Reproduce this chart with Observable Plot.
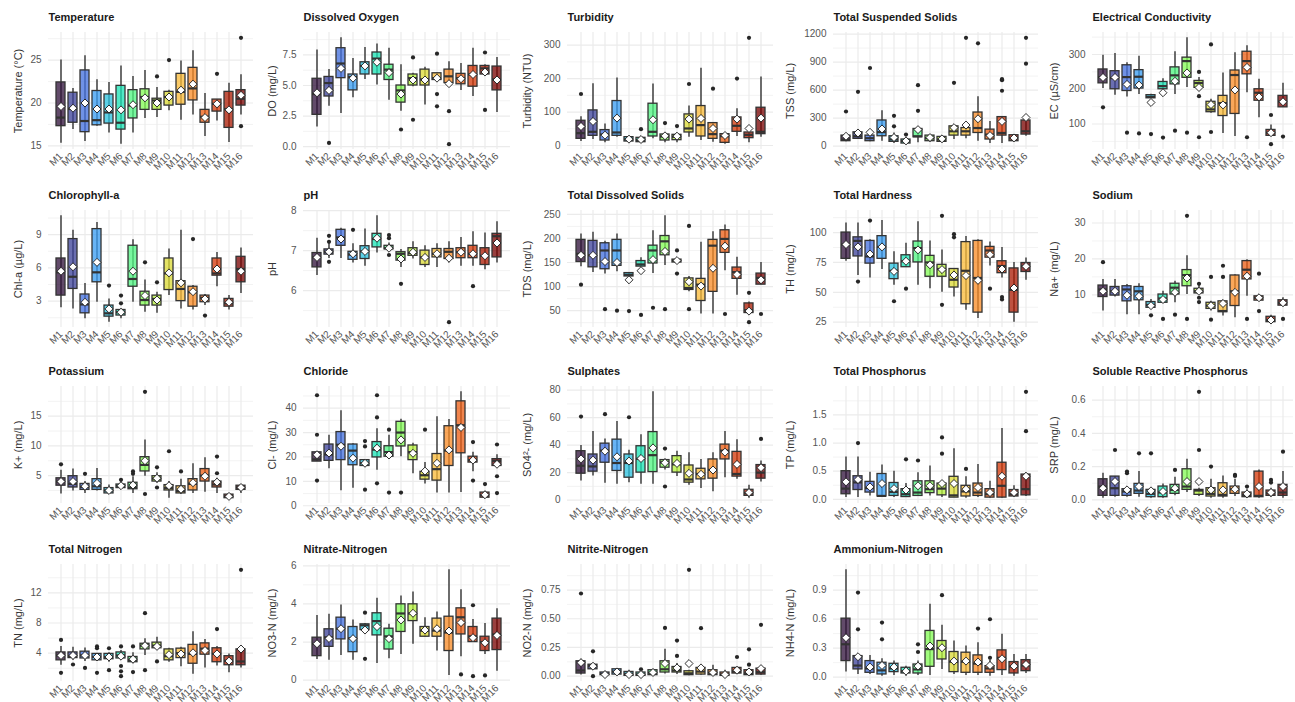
<!DOCTYPE html>
<html>
<head>
<meta charset="utf-8">
<script src="https://cdn.jsdelivr.net/npm/d3@7"></script>
<script src="https://cdn.jsdelivr.net/npm/@observablehq/plot@0.6"></script>
<style>
  html, body { margin: 0; padding: 0; background: #fff; overflow: hidden; }
  #chart { position: relative; width: 1295px; height: 702px; overflow: hidden;
           font-family: "Liberation Sans", Arial, sans-serif; }
  #chart svg { position: absolute; }
</style>
</head>
<body>
<div id="chart"></div>
<script>
// Sampling sites and their fill colours (turbo ramp)
const sites = ["M1","M2","M3","M4","M5","M6","M7","M8","M9","M10","M11","M12","M13","M14","M15","M16"];
const siteColors = ["#30123b","#3d4299","#4370de","#399cf2","#2bc1de","#1ae4b6","#4ff481","#83fb56",
                    "#b6f23c","#dbda36","#faba39","#f88b26","#ed5e15","#d43708","#ab1b04","#7a0403"];

// Box statistics per site: [lower whisker, Q1, median, Q3, upper whisker, mean, [outliers]]
const temperature = [
  [15.3,17.3,18.3,22.4,25.0,19.6,[]],
  [16.9,17.7,19.3,21.2,21.7,19.4,[]],
  [15.5,16.6,17.9,23.8,25.5,20.0,[]],
  [17.3,17.4,18.0,21.4,22.7,19.3,[]],
  [16.5,17.6,18.9,21.0,22.4,19.3,[]],
  [15.2,16.9,17.7,22.0,24.3,19.2,[]],
  [16.5,18.2,19.7,21.5,23.1,19.8,[]],
  [18.2,19.2,20.7,21.6,23.8,20.6,[]],
  [18.3,19.2,20.3,20.5,21.8,20.0,[23.1]],
  [19.1,19.7,20.7,21.3,21.5,20.7,[25.0]],
  [18.0,19.8,21.3,23.4,24.9,21.5,[]],
  [18.6,20.3,21.7,24.1,26.1,22.2,[]],
  [16.1,17.7,18.4,19.2,21.1,18.3,[]],
  [17.9,19.0,19.9,20.4,20.4,19.9,[23.4]],
  [15.4,17.1,19.3,21.3,22.3,19.2,[]],
  [18.6,19.7,20.5,21.5,23.3,20.9,[27.6,17.3]]
];
const dissolvedOxygen = [
  [1.6,2.6,4.3,5.55,7.9,4.4,[]],
  [3.3,4.1,5.2,5.7,6.3,4.6,[0.3]],
  [2.7,5.6,6.8,8.05,8.9,6.4,[]],
  [4.0,4.6,5.7,5.9,7.2,5.6,[]],
  [5.5,5.9,6.6,6.9,8.1,6.6,[]],
  [5.05,5.9,7.2,7.7,8.4,6.9,[]],
  [3.8,5.45,6.3,6.7,8.05,6.05,[]],
  [2.9,3.6,4.6,5.0,6.7,4.3,[1.4]],
  [4.9,5.0,5.6,5.9,6.0,5.45,[7.3,2.2]],
  [3.4,5.0,5.5,6.3,6.5,5.45,[]],
  [5.45,5.45,5.6,6.0,6.0,5.6,[7.6,4.3,3.3]],
  [5.1,5.2,5.75,6.3,6.95,5.15,[2.9,0.2]],
  [4.6,5.1,5.6,5.95,6.8,5.55,[]],
  [4.1,4.9,5.9,6.6,8.05,5.9,[]],
  [5.8,5.9,6.4,6.6,6.7,6.1,[7.7,3.0]],
  [2.8,4.6,5.5,6.55,7.3,5.45,[]]
];
const turbidity = [
  [12,20,37,74,86,57,[154]],
  [18,29,41,105,185,72,[]],
  [8,15,33,46,64,31,[]],
  [25,29,39,133,202,82,[]],
  [10,12,18,25,28,19,[]],
  [8,10,16,23,27,18,[49]],
  [20,27,41,125,184,77,[]],
  [8,15,27,33,39,29,[67]],
  [8,16,26,32,35,28,[58]],
  [25,39,51,93,118,79,[184]],
  [15,27,61,118,231,81,[]],
  [10,20,34,67,67,51,[170]],
  [4,8,28,34,34,30,[]],
  [27,41,59,84,110,79,[200]],
  [8,22,32,39,54,51,[322]],
  [25,34,41,113,205,82,[]]
];
const tss = [
  [46,53,71,113,124,106,[371]],
  [71,78,106,148,159,141,[582]],
  [46,53,85,113,141,148,[837]],
  [53,106,150,275,378,184,[]],
  [28,46,71,106,141,92,[325,212]],
  [21,28,53,71,78,56,[124]],
  [35,95,106,184,205,177,[378,653]],
  [42,53,85,113,124,92,[]],
  [42,46,70,99,106,78,[]],
  [71,113,159,212,222,198,[678]],
  [78,113,159,194,212,226,[1160]],
  [53,141,194,360,530,293,[1101]],
  [28,71,124,177,265,113,[]],
  [28,113,141,311,311,265,[717,706,593]],
  [46,53,85,117,124,88,[]],
  [106,124,159,275,311,307,[1160,883]]
];
const conductivity = [
  [202,217,235,257,298,234,[148]],
  [183,200,232,252,303,234,[]],
  [178,195,235,269,276,214,[75]],
  [185,202,236,255,295,212,[73]],
  [174,174,178,183,186,162,[71]],
  [198,200,209,221,230,190,[61]],
  [185,214,240,263,308,223,[81]],
  [205,233,281,291,348,247,[75]],
  [195,204,218,224,234,205,[250,180,62]],
  [131,134,142,164,171,156,[329,77]],
  [73,123,160,181,247,155,[]],
  [64,129,241,254,305,198,[]],
  [190,243,281,308,325,263,[62]],
  [118,167,190,200,229,178,[]],
  [66,66,75,83,97,75,[126,42]],
  [148,148,165,181,217,164,[64]]
];
const chlorophyll = [
  [2.4,3.5,5.6,6.85,10.7,5.7,[]],
  [2.3,4.1,5.2,8.6,9.4,6.1,[]],
  [1.4,1.9,2.7,3.6,4.6,2.9,[]],
  [2.9,4.7,5.6,9.5,10.1,6.5,[]],
  [1.1,1.6,1.9,2.6,3.2,2.3,[4.4]],
  [1.4,1.7,2.0,2.2,2.3,2.0,[3.5,2.8]],
  [2.9,4.3,5.0,8.0,8.55,5.7,[]],
  [2.0,2.6,3.1,3.85,4.9,3.5,[6.5]],
  [1.9,2.6,3.2,3.5,3.8,3.1,[4.7]],
  [3.5,4.0,5.5,6.85,7.7,5.55,[]],
  [2.3,3.0,4.1,4.8,9.4,4.65,[]],
  [2.2,2.5,3.8,4.3,4.4,3.85,[8.6]],
  [2.6,2.9,3.3,3.5,3.6,3.2,[1.7]],
  [4.3,5.3,5.5,6.85,7.4,5.9,[]],
  [2.2,2.5,2.8,3.2,3.5,2.9,[]],
  [3.7,4.7,5.9,7.0,7.8,5.7,[]]
];
const ph = [
  [6.38,6.58,6.83,6.94,7.31,6.83,[]],
  [6.8,6.9,6.97,7.03,7.17,6.97,[7.37,7.22,6.72]],
  [6.8,7.12,7.33,7.52,7.56,7.29,[]],
  [6.69,6.77,6.9,6.97,7.17,6.92,[7.52]],
  [6.61,6.79,6.98,7.11,7.54,6.98,[]],
  [6.94,7.08,7.29,7.42,7.87,7.31,[]],
  [7.0,7.03,7.06,7.12,7.19,7.06,[7.39,7.31,6.89]],
  [6.58,6.75,6.92,6.96,7.03,6.79,[6.17]],
  [6.79,6.87,6.94,7.06,7.22,6.96,[]],
  [6.58,6.64,6.83,7.0,7.12,6.83,[]],
  [6.58,6.83,6.92,7.04,7.17,6.92,[]],
  [6.69,6.79,6.97,7.04,7.22,6.81,[5.21]],
  [6.61,6.81,6.96,7.06,7.33,6.96,[]],
  [6.61,6.81,6.92,7.12,7.47,6.92,[6.11]],
  [6.52,6.64,6.87,7.06,7.44,6.87,[]],
  [6.69,6.83,7.36,7.42,7.72,7.19,[]]
];
const tds = [
  [141,151,168,197,209,165,[104]],
  [129,140,165,195,213,165,[]],
  [126,136,175,190,194,152,[53]],
  [131,143,175,197,209,150,[50]],
  [120,121,124.5,128,129,114,[49]],
  [141,141.5,146,153,160,133,[41]],
  [127,148,175,185,216,156,[56]],
  [144,165,194,205,247,173,[53]],
  [148,150,154,156,158,154,[175,127]],
  [89,93,97,117,121,110,[226,53]],
  [43,70,104,116,192,101,[]],
  [43,89,185,197,214,138,[]],
  [133,170,199,217,228,184,[43]],
  [82,116,130,139.5,161,125,[]],
  [45,45,51,65,68,49,[87,26]],
  [104,104,118,127,150,114,[43]]
];
const hardness = [
  [76,78,90,100,108,90,[]],
  [64,80,93,96,108,88,[59]],
  [62,74,80,93,94,82,[110]],
  [69,78,88,97,110,88,[]],
  [56,61,68,74,84,67.5,[42.5]],
  [71,71,76,81,91,76,[53]],
  [56,75,87,92.5,109,85.5,[]],
  [53,63,75,80.5,93,73,[]],
  [50,63,69.5,73,85.5,69,[114,39.5]],
  [46,54,60.5,69.5,70,64.5,[98.6,96]],
  [35,40,68,92,96.7,64,[]],
  [28,33,62,93,94,60,[]],
  [72,79,85,88,92,81.5,[53]],
  [62,66,72,76,87.5,69.5,[46,44]],
  [25,33,52,70,75,53.6,[]],
  [60,67,72,74.5,78.6,71.7,[]]
];
const sodium = [
  [5.5,9.4,11.5,12.6,14.3,11.0,[19.1]],
  [9.4,9.8,11.0,12.2,14.3,11.0,[]],
  [4.5,8.2,11.5,12.4,12.9,9.9,[]],
  [4.5,8.5,11.0,12.2,13.1,9.6,[]],
  [6.1,6.4,7.2,8.0,8.7,7.0,[4.3]],
  [7.8,7.8,9.0,10.1,11.0,8.7,[3.3]],
  [7.8,10.1,12.0,13.1,13.8,10.7,[4.5]],
  [10.1,12.4,15.5,16.9,20.9,14.7,[32.0,3.3]],
  [10.4,10.4,11.0,11.7,12.6,11.0,[13.1,9.2,8.0]],
  [5.5,6.1,7.0,7.8,8.2,7.0,[15.0,3.1]],
  [4.1,5.2,5.5,8.2,8.5,7.6,[18.1,15.0]],
  [3.6,6.9,11.0,15.4,15.6,10.7,[]],
  [9.6,14.3,17.0,19.4,19.8,15.2,[3.3]],
  [8.4,8.4,9.2,9.6,10.1,9.2,[15.9,5.5]],
  [2.4,2.4,3.0,3.9,4.3,3.0,[]],
  [6.7,7.0,7.8,8.5,9.2,7.8,[3.3]]
];
const potassium = [
  [1.9,3.3,4.0,4.55,5.9,4.0,[6.9]],
  [2.4,3.0,3.6,4.9,6.1,4.0,[]],
  [2.0,2.6,3.1,3.6,4.0,3.2,[5.3]],
  [2.4,2.6,3.2,4.4,6.2,3.7,[]],
  [1.8,2.0,2.5,2.9,3.4,2.5,[]],
  [2.9,2.9,3.3,3.5,4.1,3.3,[4.3]],
  [2.0,2.7,3.0,3.8,4.8,3.4,[5.7,5.3]],
  [4.9,5.7,6.8,8.1,11.0,7.5,[19.1,1.9]],
  [3.7,4.0,4.5,4.9,5.5,4.55,[6.4,3.0]],
  [1.2,2.5,2.9,3.4,4.0,3.3,[9.1]],
  [1.8,2.0,2.4,3.2,4.4,2.7,[5.7]],
  [2.0,2.5,3.6,4.4,7.0,3.8,[]],
  [2.2,4.0,5.0,6.1,8.0,4.9,[]],
  [2.0,3.0,3.5,4.0,4.55,3.9,[8.2,5.4]],
  [1.2,1.2,1.5,1.8,1.8,1.5,[]],
  [2.0,2.6,3.0,3.3,3.4,3.0,[]]
];
const chloride = [
  [18.1,18.1,19.0,21.9,21.9,20.9,[45.3,29.1,10.3]],
  [15.2,18.4,21.0,25.1,28.9,21.6,[]],
  [6.1,18.7,25.0,30.2,38.9,24.4,[]],
  [7.2,16.6,22.6,25.1,25.4,19.5,[]],
  [16.3,16.3,17.5,18.7,18.7,17.4,[26.5,24.3,6.6]],
  [14.5,19.8,23.0,26.1,31.6,23.6,[45.3,36.2,9.2]],
  [20.1,20.1,22.0,24.4,28.9,20.8,[31.2,5.4]],
  [20.1,24.3,30.0,34.4,35.5,27.0,[5.4]],
  [13.1,18.7,22.0,24.7,25.6,21.5,[]],
  [8.9,10.7,12.5,13.9,17.7,14.2,[31.2]],
  [5.2,10.3,15.0,21.2,36.5,17.4,[]],
  [5.2,16.3,22.6,32.6,35.4,22.9,[]],
  [5.4,21.5,33.0,42.8,46.7,32.1,[]],
  [13.9,17.7,18.7,20.1,21.9,18.7,[26.1,10.3]],
  [3.1,3.3,4.3,5.4,5.9,4.5,[8.9]],
  [15.6,16.3,18.4,19.1,20.9,17.0,[25.1,12.1,5.2]]
];
const sulphates = [
  [13.9,19.2,25.0,35.6,39.7,30.0,[60.8]],
  [17.5,20.7,24.5,33.2,50.0,29.1,[]],
  [12.3,27.2,36.0,41.1,44.5,35.6,[62.5]],
  [11.5,21.2,27.0,44.0,57.2,31.5,[]],
  [12.7,16.3,27.0,33.2,36.3,28.4,[60.3]],
  [11.5,20.0,30.0,39.2,47.6,30.3,[]],
  [11.5,20.4,32.7,49.5,78.8,38.0,[]],
  [21.9,23.6,27.5,29.1,30.0,27.2,[37.5,9.9]],
  [17.1,20.0,26.0,32.0,35.6,26.7,[]],
  [10.8,12.7,15.0,25.2,34.4,19.5,[]],
  [8.4,15.1,19.0,22.8,29.6,18.8,[]],
  [6.0,15.6,22.0,29.6,34.4,21.9,[]],
  [16.3,29.6,36.0,40.4,50.0,34.9,[]],
  [15.1,17.1,19.0,35.1,44.0,26.0,[]],
  [1.4,3.1,5.0,7.5,10.8,5.5,[]],
  [13.2,15.6,20.0,25.5,28.4,23.6,[44.5]]
];
const totalPhosphorus = [
  [0.03,0.09,0.19,0.5,0.75,0.31,[]],
  [0.03,0.165,0.3,0.41,0.75,0.35,[1.0]],
  [0.06,0.12,0.2,0.31,0.48,0.22,[]],
  [0.03,0.05,0.06,0.45,0.61,0.28,[]],
  [0.03,0.06,0.13,0.29,0.5,0.19,[]],
  [0.03,0.04,0.09,0.18,0.28,0.165,[0.71]],
  [0.05,0.06,0.12,0.32,0.47,0.24,[0.69]],
  [0.06,0.11,0.18,0.32,0.59,0.24,[]],
  [0.03,0.07,0.19,0.28,0.32,0.28,[1.1,0.81]],
  [0.03,0.03,0.07,0.4,0.9,0.28,[]],
  [0.02,0.05,0.14,0.24,0.4,0.18,[0.54]],
  [0.03,0.06,0.12,0.28,0.62,0.21,[]],
  [0.02,0.03,0.09,0.18,0.32,0.12,[]],
  [0.02,0.03,0.24,0.65,1.26,0.41,[]],
  [0.03,0.05,0.09,0.165,0.24,0.12,[]],
  [0.05,0.07,0.18,0.44,0.47,0.41,[1.91,1.21]]
];
const srp = [
  [0.01,0.024,0.08,0.124,0.16,0.07,[]],
  [0.016,0.024,0.07,0.14,0.14,0.11,[0.3]],
  [0.016,0.024,0.05,0.064,0.076,0.06,[0.17,0.16]],
  [0.016,0.036,0.056,0.096,0.17,0.08,[0.28]],
  [0.01,0.016,0.036,0.06,0.064,0.054,[0.28]],
  [0.01,0.016,0.044,0.08,0.096,0.05,[]],
  [0.024,0.036,0.06,0.09,0.136,0.07,[0.18]],
  [0.044,0.06,0.08,0.184,0.244,0.11,[]],
  [0.02,0.03,0.056,0.06,0.07,0.11,[0.65,0.3]],
  [0.01,0.02,0.036,0.07,0.124,0.06,[0.2]],
  [0.01,0.02,0.03,0.1,0.144,0.06,[]],
  [0.02,0.036,0.064,0.08,0.124,0.064,[0.15,0.144]],
  [0.01,0.016,0.03,0.044,0.06,0.036,[0.08]],
  [0.01,0.016,0.024,0.17,0.18,0.08,[]],
  [0.016,0.024,0.04,0.056,0.07,0.044,[0.12,0.104]],
  [0.01,0.024,0.044,0.09,0.17,0.08,[0.29]]
];
const totalNitrogen = [
  [2.4,3.05,3.7,4.1,4.9,3.7,[5.75,1.4]],
  [3.05,3.35,3.6,4.1,4.8,3.7,[2.5]],
  [2.9,3.3,3.7,4.2,4.7,3.7,[2.05]],
  [2.9,3.05,3.5,3.9,3.9,3.5,[4.9,4.65,1.4]],
  [2.8,3.2,3.5,3.9,4.05,3.5,[4.65,1.75]],
  [3.05,3.3,3.7,4.1,4.35,3.6,[4.9,2.3,1.6,0.95]],
  [2.6,2.8,3.1,3.5,4.05,3.2,[4.9,1.5]],
  [3.7,4.5,5.0,5.25,5.9,5.0,[9.3,1.75]],
  [4.5,4.65,5.0,5.4,6.1,4.9,[2.9]],
  [2.8,3.05,3.6,4.5,4.65,3.8,[]],
  [2.2,3.35,4.0,4.6,4.8,3.9,[]],
  [1.2,2.6,3.9,5.1,6.85,4.05,[]],
  [2.05,3.8,4.6,5.3,5.8,4.35,[]],
  [2.3,2.8,3.9,4.65,4.9,3.9,[7.2]],
  [1.4,2.4,3.0,3.6,3.9,2.95,[]],
  [2.05,2.4,2.9,4.5,4.6,4.55,[15.05]]
];
const nitrate = [
  [1.09,1.26,1.9,2.23,3.4,1.91,[]],
  [1.05,1.75,2.25,2.67,3.46,2.19,[]],
  [1.3,2.14,2.7,3.28,3.95,2.7,[]],
  [1.05,1.47,2.2,2.79,3.16,2.18,[]],
  [2.63,2.63,2.88,2.93,2.98,2.63,[3.54,1.12]],
  [0.88,2.35,3.1,3.51,4.3,2.81,[]],
  [1.12,1.61,2.3,2.7,2.93,2.18,[]],
  [1.35,2.53,3.5,3.98,4.42,3.16,[]],
  [1.88,3.1,3.5,3.98,4.63,3.51,[]],
  [2.28,2.28,2.6,2.79,3.28,2.63,[]],
  [1.53,2.28,2.6,3.23,3.58,2.7,[]],
  [0.25,1.53,2.5,3.33,5.79,2.58,[]],
  [1.23,2.4,3.3,3.77,4.74,3.02,[0.3]],
  [2.0,2.0,2.3,2.79,3.19,2.23,[3.93,0.21]],
  [1.35,1.53,2.0,2.28,2.98,1.96,[0.25]],
  [0.47,1.58,2.4,3.23,3.75,2.35,[]]
];
const nitrite = [
  [0.01,0.023,0.05,0.13,0.147,0.118,[0.72]],
  [0.06,0.06,0.09,0.1,0.11,0.087,[0.216,0.0]],
  [0.003,0.009,0.02,0.032,0.043,0.014,[]],
  [0.009,0.014,0.04,0.06,0.066,0.037,[]],
  [0.0,0.003,0.02,0.037,0.052,0.014,[]],
  [0.0,0.003,0.015,0.032,0.043,0.014,[0.06]],
  [0.003,0.009,0.03,0.052,0.06,0.032,[]],
  [0.02,0.032,0.06,0.13,0.234,0.11,[0.42]],
  [0.014,0.032,0.05,0.08,0.11,0.072,[0.31,0.176]],
  [0.003,0.009,0.025,0.043,0.052,0.11,[0.926]],
  [0.009,0.014,0.04,0.072,0.08,0.072,[0.418]],
  [0.003,0.009,0.03,0.052,0.095,0.032,[]],
  [0.0,0.003,0.015,0.032,0.052,0.014,[]],
  [0.014,0.023,0.04,0.072,0.08,0.052,[0.167]],
  [0.003,0.009,0.025,0.052,0.066,0.037,[0.234,0.1]],
  [0.009,0.014,0.035,0.066,0.08,0.066,[0.447]]
];
const ammonium = [
  [0.052,0.166,0.34,0.605,1.11,0.408,[]],
  [0.028,0.08,0.12,0.218,0.235,0.211,[0.875,0.495]],
  [0.028,0.045,0.09,0.166,0.225,0.104,[]],
  [0.01,0.028,0.07,0.149,0.19,0.121,[0.564,0.391]],
  [0.017,0.052,0.09,0.138,0.166,0.104,[]],
  [0.01,0.038,0.06,0.097,0.114,0.062,[]],
  [0.017,0.038,0.08,0.131,0.166,0.114,[0.339,0.26]],
  [0.017,0.107,0.29,0.478,0.754,0.322,[]],
  [0.08,0.183,0.3,0.374,0.536,0.304,[0.848]],
  [0.028,0.052,0.16,0.26,0.374,0.166,[]],
  [0.017,0.045,0.16,0.253,0.322,0.166,[]],
  [0.017,0.045,0.14,0.225,0.356,0.156,[0.502]],
  [0.01,0.045,0.09,0.114,0.173,0.121,[0.599,0.2]],
  [0.017,0.073,0.2,0.277,0.443,0.19,[]],
  [0.01,0.038,0.11,0.156,0.235,0.114,[]],
  [0.038,0.062,0.12,0.176,0.235,0.131,[]]
];

// Panel titles, axis titles and tick labels
const panels = [
  {title: "Temperature", axis: "Temperature (°C)", stats: temperature, ticks: ["15","20","25"]},
  {title: "Dissolved Oxygen", axis: "DO (mg/L)", stats: dissolvedOxygen, ticks: ["0.0","2.5","5.0","7.5"]},
  {title: "Turbidity", axis: "Turbidity (NTU)", stats: turbidity, ticks: ["0","100","200","300"]},
  {title: "Total Suspended Solids", axis: "TSS (mg/L)", stats: tss, ticks: ["0","300","600","900","1200"]},
  {title: "Electrical Conductivity", axis: "EC (µS/cm)", stats: conductivity, ticks: ["100","200","300"]},
  {title: "Chlorophyll-a", axis: "Chl-a (µg/L)", stats: chlorophyll, ticks: ["3","6","9"]},
  {title: "pH", axis: "pH", stats: ph, ticks: ["6","7","8"]},
  {title: "Total Dissolved Solids", axis: "TDS (mg/L)", stats: tds, ticks: ["50","100","150","200","250"]},
  {title: "Total Hardness", axis: "TH (mg/L)", stats: hardness, ticks: ["25","50","75","100"]},
  {title: "Sodium", axis: "Na+ (mg/L)", stats: sodium, ticks: ["10","20","30"]},
  {title: "Potassium", axis: "K+ (mg/L)", stats: potassium, ticks: ["5","10","15"]},
  {title: "Chloride", axis: "Cl- (mg/L)", stats: chloride, ticks: ["0","10","20","30","40"]},
  {title: "Sulphates", axis: "SO4²- (mg/L)", stats: sulphates, ticks: ["0","20","40","60","80"]},
  {title: "Total Phosphorus", axis: "TP (mg/L)", stats: totalPhosphorus, ticks: ["0.0","0.5","1.0","1.5"]},
  {title: "Soluble Reactive Phosphorus", axis: "SRP (mg/L)", stats: srp, ticks: ["0.0","0.2","0.4","0.6"]},
  {title: "Total Nitrogen", axis: "TN (mg/L)", stats: totalNitrogen, ticks: ["4","8","12"]},
  {title: "Nitrate-Nitrogen", axis: "NO3-N (mg/L)", stats: nitrate, ticks: ["0","2","4","6"]},
  {title: "Nitrite-Nitrogen", axis: "NO2-N (mg/L)", stats: nitrite, ticks: ["0.00","0.25","0.50","0.75"]},
  {title: "Ammonium-Nitrogen", axis: "NH4-N (mg/L)", stats: ammonium, ticks: ["0.0","0.3","0.6","0.9"]}
];

// Grid of panels: 5 columns x 4 rows
const colLeft = [48, 303, 567, 833, 1092];
const colWidth = [205, 207, 206, 205, 201];
const axisTitleDx = [-30, -31, -40, -43, -38];
const rowTop = [32, 209.5, 386, 563.5];
const panelHeight = 117;
const M = {top: 30, right: 4, bottom: 30, left: 50};
const FONT = '"Liberation Sans", Arial, sans-serif';

const siteColor = new Map(sites.map((s, i) => [s, siteColors[i]]));

const chart = document.getElementById("chart");

panels.forEach((p, k) => {
  const col = k % 5, row = Math.floor(k / 5);
  const rows = p.stats.map((s, i) => ({
    site: sites[i], lo: s[0], q1: s[1], med: s[2], q3: s[3], hi: s[4], mean: s[5], color: siteColor.get(sites[i])
  }));
  const outliers = p.stats.flatMap((s, i) => s[6].map(v => ({site: sites[i], v})));

  // continuous range with 5% expansion on each side
  const values = p.stats.flatMap(s => [s[0], s[4], s[5], ...s[6]]);
  const vmin = d3.min(values), vmax = d3.max(values), pad = (vmax - vmin) * 0.05;
  const domain = [vmin - pad, vmax + pad];

  const major = p.ticks.map(Number);
  const step = major[1] - major[0];
  const minor = [major[0] - step / 2, ...major.map(t => t + step / 2)]
    .filter(v => v >= domain[0] && v <= domain[1]);
  const tickLabel = new Map(major.map((v, i) => [v, p.ticks[i]]));

  const svg = Plot.plot({
    width: M.left + colWidth[col] + M.right,
    height: M.top + panelHeight + M.bottom,
    marginTop: M.top, marginRight: M.right, marginBottom: M.bottom, marginLeft: M.left,
    style: {background: "transparent", fontFamily: FONT, fontSize: "10px", color: "#555", overflow: "visible"},
    x: {type: "band", domain: sites, paddingInner: 0.25, paddingOuter: 0.225, align: 0.5,
        tickSize: 0, tickPadding: 5, tickRotate: -45, label: null},
    y: {domain, ticks: major, tickFormat: d => tickLabel.get(d), tickSize: 0, tickPadding: 7, label: null},
    marks: [
      Plot.ruleY(minor, {stroke: "#ebebeb", strokeWidth: 0.6}),
      Plot.ruleY(major, {stroke: "#ebebeb", strokeWidth: 1.2}),
      Plot.ruleX(sites, {stroke: "#ebebeb", strokeWidth: 1.2}),
      Plot.ruleX(rows, {x: "site", y1: "lo", y2: "hi", stroke: "#333", strokeWidth: 1.4}),
      Plot.barY(rows, {x: "site", y1: "q1", y2: "q3", fill: "color", fillOpacity: 0.76, stroke: "#333", strokeWidth: 1.3}),
      Plot.tickY(rows, {x: "site", y: "med", stroke: "#333", strokeWidth: 2.2}),
      Plot.dot(outliers, {x: "site", y: "v", r: 2.1, fill: "#262626", stroke: "none"}),
      Plot.dot(rows, {x: "site", y: "mean", symbol: "diamond2", r: 3.6, fill: "white", stroke: "#1a1a1a", strokeWidth: 0.9}),
      Plot.text([p.title], {text: d => d, frameAnchor: "top-left", lineAnchor: "middle", dy: -15.5,
        textAnchor: "start", fontWeight: "bold", fontSize: 11, fill: "#1a1a1a"}),
      Plot.text([p.axis], {text: d => d, frameAnchor: "left", lineAnchor: "middle", dx: axisTitleDx[col], rotate: -90,
        textAnchor: "middle", fontSize: 11, fill: "#333"})
    ]
  });
  svg.style.left = (colLeft[col] - M.left) + "px";
  svg.style.top = (rowTop[row] - M.top) + "px";
  chart.appendChild(svg);
});
</script>
</body>
</html>
